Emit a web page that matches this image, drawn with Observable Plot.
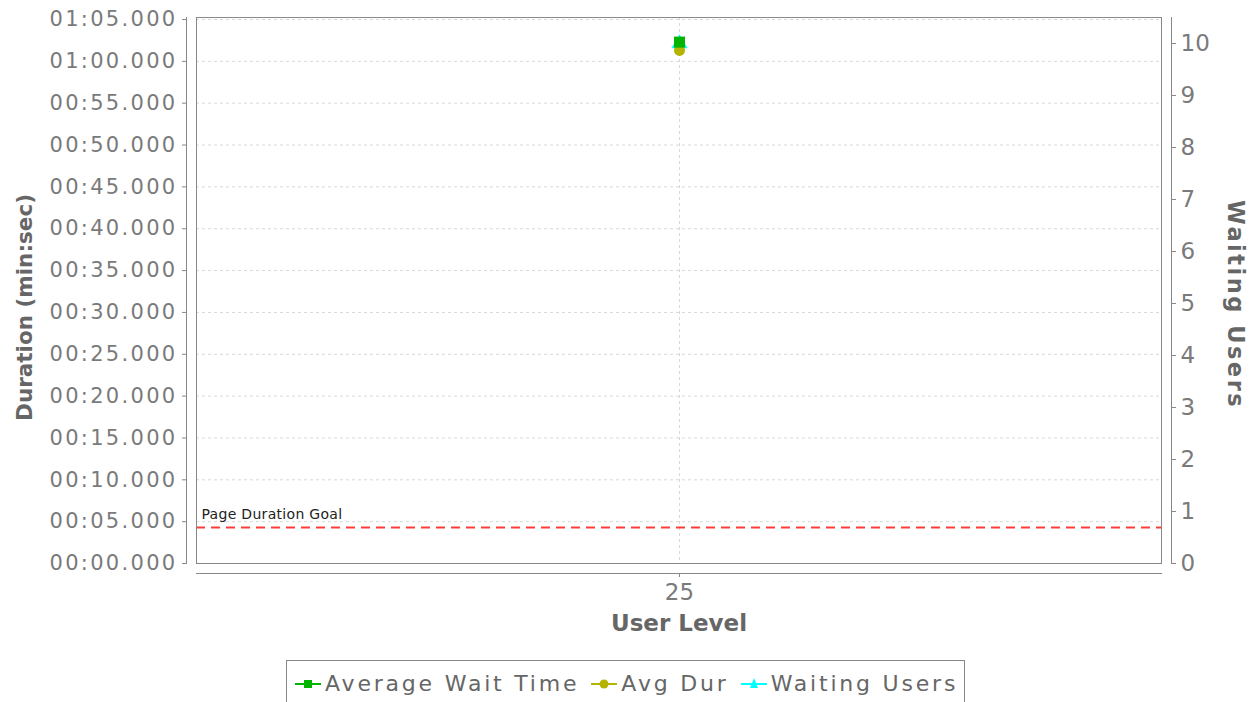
<!DOCTYPE html>
<html>
<head>
<meta charset="utf-8">
<script src="https://cdn.jsdelivr.net/npm/d3@7"></script>
<script src="https://cdn.jsdelivr.net/npm/@observablehq/plot@0.6"></script>
<style>
  html, body { margin: 0; padding: 0; background: #fff; }
  body { width: 1252px; height: 702px; overflow: hidden; font-family: "DejaVu Sans", sans-serif; }
  #legend { position: absolute; left: 286px; top: 660px; border: 1px solid #888; padding: 10px 6px 20px 8px; display: flex; gap: 12px; align-items: center; font-size: 22px; letter-spacing: 2.8px; color: #666; white-space: nowrap; background: #fff; }
  #legend .item { display: flex; align-items: center; gap: 4px; }
</style>
</head>
<body>
<div id="chart"></div>
<div id="legend"></div>
<script>
// ---- data ----
const userLevels = ["25"];
const avgWaitTime = [62.3];   // seconds
const avgDur = [61.3];        // seconds
const waitingUsers = [10];
const goalSeconds = 4.3;
const goalLabel = "Page Duration Goal";
const durationTicks = [0, 5, 10, 15, 20, 25, 30, 35, 40, 45, 50, 55, 60, 65];
const userTicks = [0, 1, 2, 3, 4, 5, 6, 7, 8, 9, 10];
const seriesNames = ["Average Wait Time", "Avg Dur", "Waiting Users"];
const seriesColors = ["#00b400", "#b4b400", "#00ffff"];

const yMax = 65.24;
const rMax = 10.5;
const k = yMax / rMax;

const rows = userLevels.map((u, i) => ({level: u, wait: avgWaitTime[i], dur: avgDur[i], users: waitingUsers[i]}));

const fmt = s => {
  const m = Math.floor(s / 60), sec = s - m * 60;
  return String(m).padStart(2, "0") + ":" + sec.toFixed(3).padStart(6, "0");
};

const chart = Plot.plot({
  width: 1252, height: 650,
  marginLeft: 196, marginRight: 91, marginTop: 17, marginBottom: 87,
  style: {fontFamily: "DejaVu Sans", fontSize: "23px", color: "#777", background: "white"},
  x: {type: "point", domain: userLevels, axis: null},
  y: {domain: [0, yMax], axis: null},
  marks: [
    Plot.gridY(durationTicks, {stroke: "#d8d8d8", strokeOpacity: 1, strokeDasharray: "3,3"}),
    Plot.gridX(userLevels, {stroke: "#d8d8d8", strokeOpacity: 1, strokeDasharray: "3,3"}),
    Plot.ruleY([goalSeconds], {stroke: "#ff3c3c", strokeWidth: 2, strokeDasharray: "9,6"}),
    Plot.text([goalSeconds], {y: d => d, frameAnchor: "left", text: () => goalLabel, textAnchor: "start", dx: 5, dy: -13, fontSize: 14, fill: "#222"}),
    Plot.frame({stroke: "#888"}),
    Plot.frame({anchor: "left", dx: -10, stroke: "#888"}),
    Plot.frame({anchor: "right", dx: 10, stroke: "#888"}),
    Plot.frame({anchor: "bottom", dy: 10, stroke: "#888"}),
    Plot.axisY(durationTicks, {anchor: "left", dx: -10, tickSize: 4, tickPadding: 5, tickFormat: fmt, label: null, stroke: "#888", fill: "#7a7a7a", fontSize: 21}),
    Plot.axisY(userTicks.map(v => v * k), {anchor: "right", dx: 10, tickSize: 4, tickPadding: 5, tickFormat: d => String(Math.round(d / k)), label: null, stroke: "#888", fill: "#7a7a7a"}),
    Plot.axisX(userLevels, {anchor: "bottom", dy: 10, tickSize: 4, tickPadding: 6, label: null, stroke: "#888", fill: "#7a7a7a"}),
    Plot.text(["Duration (min:sec)"], {frameAnchor: "left", textAnchor: "middle", rotate: -90, dx: -171, dy: 17, fontWeight: "bold", fill: "#666", fontSize: 21.5}),
    Plot.text(["Waiting Users"], {frameAnchor: "right", textAnchor: "middle", rotate: 90, dx: 74, dy: 14, fontWeight: "bold", fill: "#666", fontSize: 22.5}),
    Plot.text(["User Level"], {frameAnchor: "bottom", dy: 67, fontWeight: "bold", fill: "#666", fontSize: 23}),
    Plot.dot(rows, {x: "level", y: d => d.users * k, symbol: "triangle", r: 6, fill: seriesColors[2], stroke: "none"}),
    Plot.dot(rows, {x: "level", y: "dur", symbol: "circle", r: 5.5, fill: seriesColors[1], stroke: "none"}),
    Plot.dot(rows, {x: "level", y: "wait", symbol: "square", r: 6.2, fill: seriesColors[0], stroke: "none"})
  ]
});
// text spacing tweaks (style only)
chart.querySelectorAll("text").forEach(t => {
  const s = t.textContent;
  if (/^\d\d:\d\d\.\d{3}$/.test(s)) t.style.letterSpacing = "2.3px";
  else if (s === "Waiting Users") t.style.letterSpacing = "2.5px";
  else if (s === goalLabel) t.style.letterSpacing = "0.3px";
});
document.getElementById("chart").appendChild(chart);

// legend
const symbols = [
  '<rect x="9" y="3" width="8" height="8"/>',
  '<circle cx="13" cy="7" r="4.5"/>',
  '<path d="M13 1 L17 11 L9 11 Z"/>'
];
const legend = document.getElementById("legend");
seriesNames.forEach((name, i) => {
  const item = document.createElement("span");
  item.className = "item";
  item.innerHTML = `<svg width="26" height="14"><line x1="0" y1="7" x2="26" y2="7" stroke="${seriesColors[i]}" stroke-width="2"/><g fill="${seriesColors[i]}">${symbols[i]}</g></svg><span>${name}</span>`;
  legend.appendChild(item);
});
</script>
</body>
</html>
